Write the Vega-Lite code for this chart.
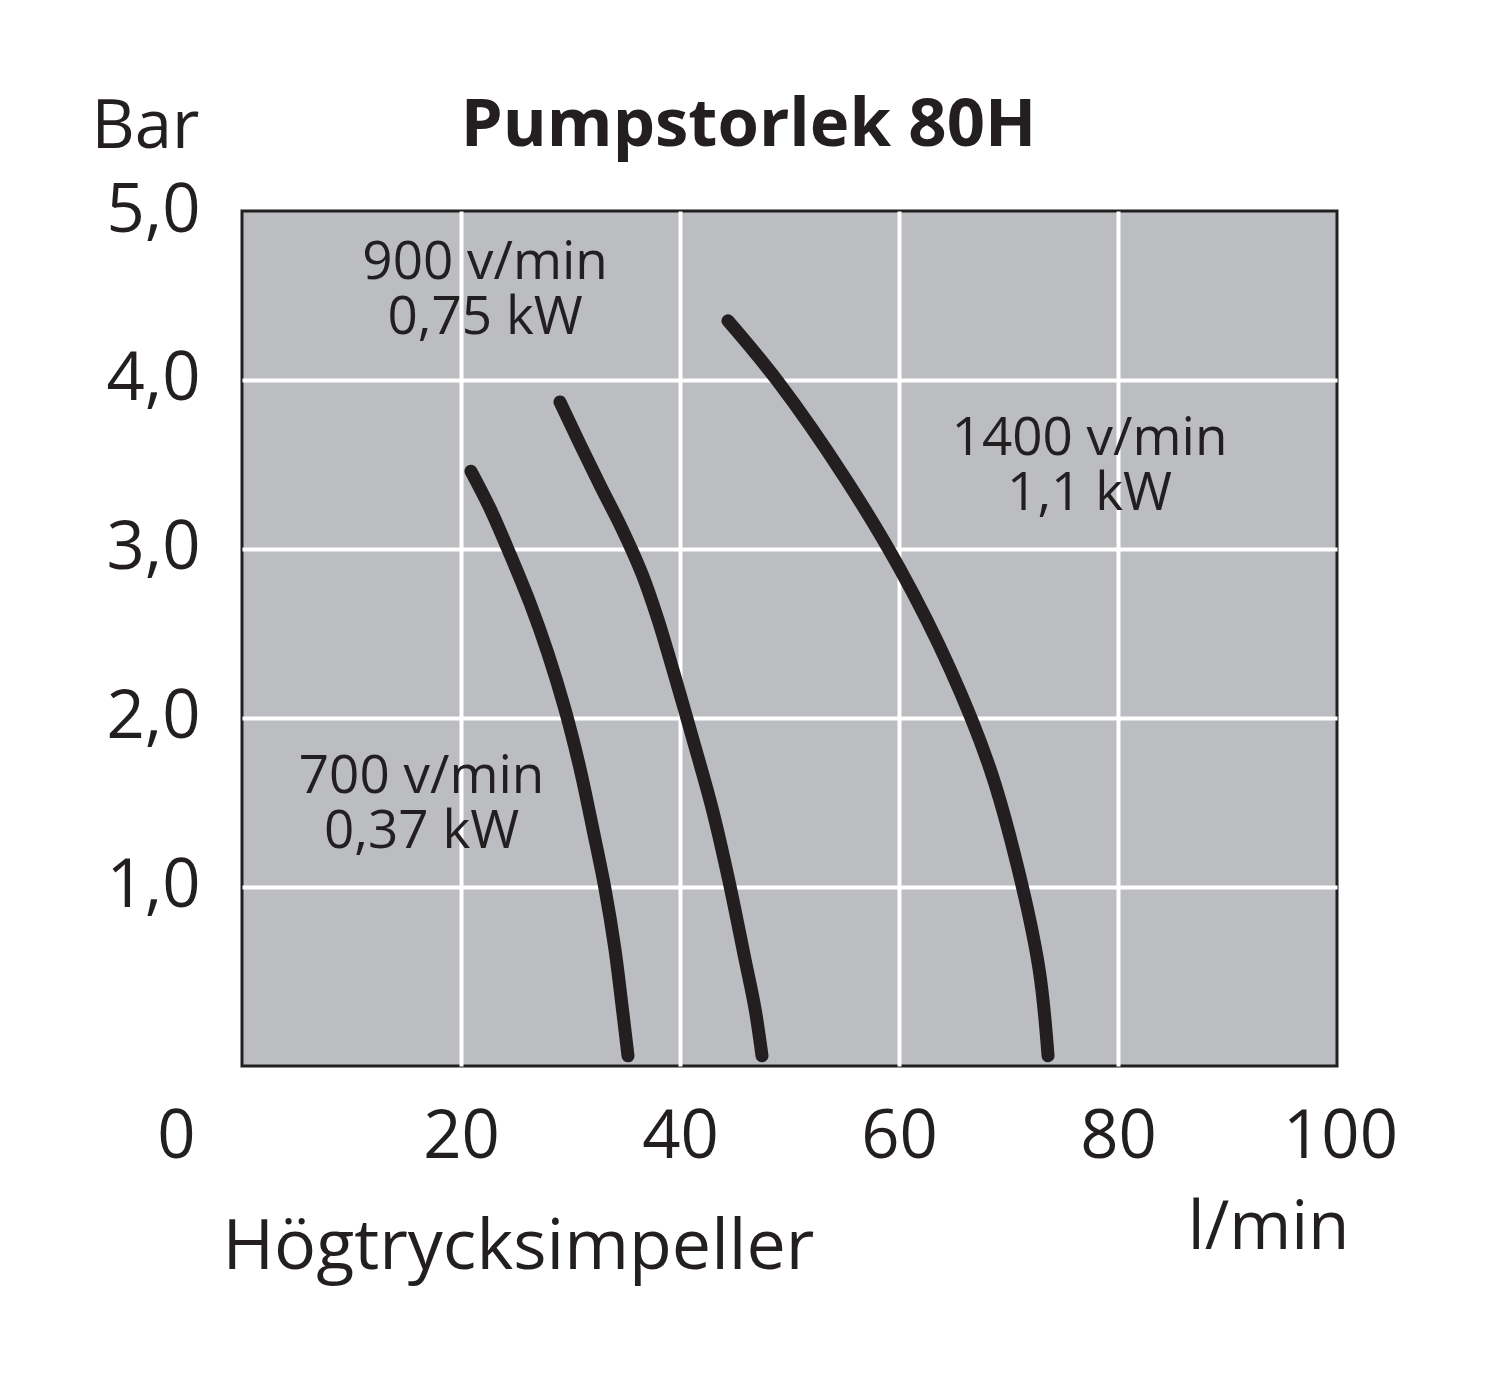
{
  "$schema": "https://vega.github.io/schema/vega-lite/v6.json",
  "autosize": {"type": "none"},
  "width": 1095,
  "height": 855,
  "padding": {"left": 242, "top": 211, "right": 163, "bottom": 322},
  "background": "#ffffff",
  "config": {
    "font": "Open Sans",
    "view": {"stroke": "#231f20", "strokeWidth": 3, "fill": "#bcbdc1"}
  },
  "title": {
    "text": "Pumpstorlek 80H",
    "font": "Open Sans",
    "fontSize": 67,
    "fontWeight": "bold",
    "color": "#231f20",
    "anchor": "middle",
    "frame": "group",
    "dx": -41,
    "baseline": "alphabetic",
    "offset": -120
  },
  "datasets": {
    "curves": [
      {"rpm": "700", "flow": 20.91, "pressure": 3.46},
      {"rpm": "700", "flow": 22.65, "pressure": 3.24},
      {"rpm": "700", "flow": 24.47, "pressure": 2.97},
      {"rpm": "700", "flow": 26.30, "pressure": 2.68},
      {"rpm": "700", "flow": 27.95, "pressure": 2.38},
      {"rpm": "700", "flow": 29.50, "pressure": 2.05},
      {"rpm": "700", "flow": 30.87, "pressure": 1.70},
      {"rpm": "700", "flow": 32.05, "pressure": 1.34},
      {"rpm": "700", "flow": 33.15, "pressure": 0.99},
      {"rpm": "700", "flow": 34.06, "pressure": 0.63},
      {"rpm": "700", "flow": 34.70, "pressure": 0.30},
      {"rpm": "700", "flow": 35.25, "pressure": 0.0},
      {"rpm": "900", "flow": 29.04, "pressure": 3.87},
      {"rpm": "900", "flow": 30.87, "pressure": 3.62},
      {"rpm": "900", "flow": 32.75, "pressure": 3.37},
      {"rpm": "900", "flow": 34.70, "pressure": 3.12},
      {"rpm": "900", "flow": 36.55, "pressure": 2.85},
      {"rpm": "900", "flow": 37.95, "pressure": 2.59},
      {"rpm": "900", "flow": 39.20, "pressure": 2.32},
      {"rpm": "900", "flow": 41.15, "pressure": 1.88},
      {"rpm": "900", "flow": 42.95, "pressure": 1.46},
      {"rpm": "900", "flow": 44.45, "pressure": 1.04},
      {"rpm": "900", "flow": 45.94, "pressure": 0.57},
      {"rpm": "900", "flow": 46.85, "pressure": 0.28},
      {"rpm": "900", "flow": 47.49, "pressure": 0.0},
      {"rpm": "1400", "flow": 44.38, "pressure": 4.35},
      {"rpm": "1400", "flow": 48.95, "pressure": 3.99},
      {"rpm": "1400", "flow": 55.07, "pressure": 3.42},
      {"rpm": "1400", "flow": 60.09, "pressure": 2.88},
      {"rpm": "1400", "flow": 64.66, "pressure": 2.29},
      {"rpm": "1400", "flow": 68.31, "pressure": 1.70},
      {"rpm": "1400", "flow": 70.90, "pressure": 1.10},
      {"rpm": "1400", "flow": 72.80, "pressure": 0.51},
      {"rpm": "1400", "flow": 73.61, "pressure": 0.0}
    ],
    "labels": [
      {"text": "900 v/min\n0,75 kW", "flow": 22.2, "pressure": 4.69},
      {"text": "1400 v/min\n1,1 kW", "flow": 77.4, "pressure": 3.65},
      {"text": "700 v/min\n0,37 kW", "flow": 16.4, "pressure": 1.65}
    ]
  },
  "resolve": {"axis": {"y": "independent"}},
  "layer": [
    {
      "data": {"name": "curves"},
      "mark": {"type": "line", "color": "#231f20", "strokeWidth": 13, "strokeCap": "round", "strokeJoin": "round", "interpolate": "catmull-rom"},
      "encoding": {
        "x": {
          "field": "flow", "type": "quantitative",
          "scale": {"domain": [0, 100], "nice": false, "zero": false},
          "axis": {
            "values": [0, 20, 40, 60, 80, 100],
            "domain": false, "ticks": false,
            "labelFontSize": 67, "labelColor": "#231f20", "labelFont": "Open Sans",
            "labelBaseline": "alphabetic", "labelPadding": 91, "labelFlush": false, "labelOverlap": false,
            "labelOffset": {"condition": [{"test": "datum.value === 0", "value": -66}, {"test": "datum.value === 100", "value": 3}], "value": 0},
            "grid": true, "gridColor": "#ffffff", "gridWidth": 4,
            "gridOpacity": {"condition": {"test": "datum.value === 0 || datum.value === 100", "value": 0}, "value": 1},
            "title": "Högtrycksimpeller",
            "titleFont": "Open Sans", "titleFontSize": 70, "titleFontWeight": "normal", "titleColor": "#231f20",
            "titleAlign": "left", "titleAnchor": "start", "titleBaseline": "alphabetic",
            "titleX": -20, "titleY": 202
          }
        },
        "y": {
          "field": "pressure", "type": "quantitative",
          "scale": {"domain": [-0.06, 5], "nice": false, "zero": false},
          "axis": {
            "values": [1, 2, 3, 4, 5],
            "domain": false, "ticks": false,
            "labelExpr": "replace(format(datum.value, '.1f'), '.', ',')",
            "labelFontSize": 67, "labelColor": "#231f20", "labelFont": "Open Sans",
            "labelBaseline": "middle", "labelPadding": 42, "labelFlush": false, "labelOverlap": false,
            "grid": true, "gridColor": "#ffffff", "gridWidth": 4,
            "gridOpacity": {"condition": {"test": "datum.value === 5", "value": 0}, "value": 1},
            "title": "Bar",
            "titleFont": "Open Sans", "titleFontSize": 67, "titleFontWeight": "normal", "titleColor": "#231f20",
            "titleAngle": 0, "titleAlign": "center", "titleBaseline": "alphabetic",
            "titleX": -97, "titleY": -64
          }
        },
        "detail": {"field": "rpm"}
      }
    },
    {
      "data": {"name": "labels"},
      "mark": {"type": "text", "font": "Open Sans", "fontSize": 53, "lineHeight": 55, "lineBreak": "\n", "color": "#231f20", "align": "center", "baseline": "middle"},
      "encoding": {
        "x": {"field": "flow", "type": "quantitative"},
        "y": {
          "field": "pressure", "type": "quantitative",
          "axis": {
            "orient": "right", "labels": false, "ticks": false, "domain": false, "grid": false,
            "title": "l/min",
            "titleFont": "Open Sans", "titleFontSize": 67, "titleFontWeight": "normal", "titleColor": "#231f20",
            "titleAngle": 0, "titleAlign": "center", "titleBaseline": "alphabetic",
            "titleX": -69, "titleY": 1037
          }
        },
        "text": {"field": "text"}
      }
    }
  ]
}
